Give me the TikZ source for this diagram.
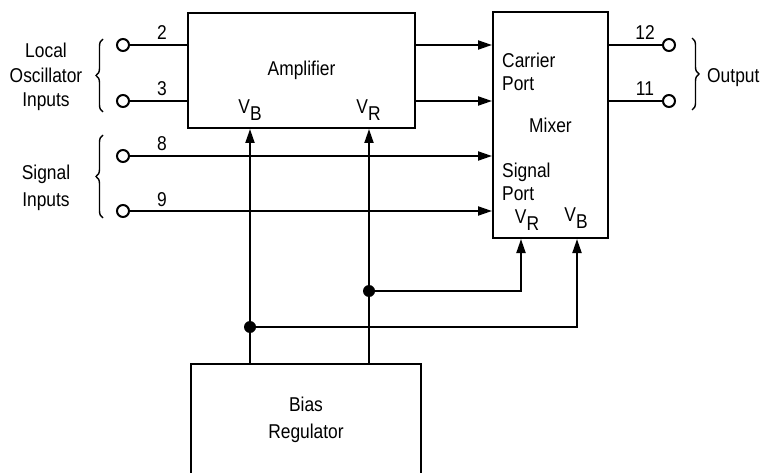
\documentclass[tikz,border=0pt]{standalone}
\usepackage{fontspec}
\setmainfont{Liberation Sans}[FakeStretch=0.87]
\usetikzlibrary{arrows.meta,decorations.pathreplacing}
\tikzset{
  block/.style={draw, line width=2pt, inner sep=0pt, font=\fontsize{20}{24}\selectfont},
  term/.style={circle, draw, fill=white, line width=2pt, minimum size=12pt, inner sep=0pt},
  junc/.style={circle, fill, minimum size=12pt, inner sep=0pt},
  wire/.style={line width=2pt},
  feed/.style={wire, -{Triangle[length=14pt,width=9pt]}},
  lbl/.style={inner sep=0pt, font=\fontsize{20}{24}\selectfont},
  grp/.style={line width=1.4pt, decorate, decoration={brace, amplitude=7pt}},
}
\newcommand{\vsub}[1]{V\raisebox{-0.35em}{#1}}

\begin{document}
\begin{tikzpicture}[x=1pt, y=-1pt]
  \useasboundingbox (0,0) rectangle (760,473);
  \clip (0,0) rectangle (760,473);

  % blocks
  \node[block, minimum width=227pt, minimum height=115pt] (amp) at (301.5,70.5) {Amplifier};
  \node[block, minimum width=115pt, minimum height=226pt] (mix) at (550.5,125) {Mixer};
  \node[block, minimum width=230pt, minimum height=112pt, anchor=north,
        align=center, font=\fontsize{20}{27}\selectfont] (bias) at (306,363) {Bias\\Regulator};

  % texts inside the blocks
  \node[lbl, anchor=west, align=left, font=\fontsize{20}{22.3}\selectfont] (carrier) at (502,72) {Carrier\\Port};
  \node[lbl, anchor=west, align=left, font=\fontsize{20}{22.3}\selectfont] (sigport) at (502,182) {Signal\\Port};
  \node[lbl] (ampvb) at (250,110.5) {\vsub{B}};
  \node[lbl] (ampvr) at (368.5,110.5) {\vsub{R}};
  \node[lbl] (mixvr) at (527,220) {\vsub{R}};
  \node[lbl] (mixvb) at (576,218.5) {\vsub{B}};

  % terminals
  \node[term] (t2) at (123,45) {};
  \node[term] (t3) at (123,101) {};
  \node[term] (t8) at (123,156) {};
  \node[term] (t9) at (123,211) {};
  \node[term] (t12) at (669,45) {};
  \node[term] (t11) at (669,101) {};

  % pin numbers
  \node[lbl] (n2) at (162,33) {2};
  \node[lbl] (n3) at (162,89) {3};
  \node[lbl] (n8) at (162,144) {8};
  \node[lbl] (n9) at (162,200) {9};
  \node[lbl] (n12) at (645,33) {12};
  \node[lbl] (n11) at (645,89) {11};

  % group labels
  \node[lbl, align=center, font=\fontsize{20}{24.2}\selectfont] (lotxt) at (46,77) {Local\\Oscillator\\Inputs};
  \node[lbl, align=center, font=\fontsize{20}{26.5}\selectfont] (sigtxt) at (46,188) {Signal\\Inputs};
  \node[lbl, anchor=west] (outtxt) at (707,78) {Output};
  \draw[grp] (103,112) -- (103,39);
  \draw[grp] (103,218) -- (103,135);
  \draw[grp] (692,38) -- (692,110);

  % signal path
  \draw[wire] (t2) -- (amp.west |- t2);
  \draw[wire] (t3) -- (amp.west |- t3);
  \draw[feed] (amp.east |- t2) -- (mix.west |- t2);
  \draw[feed] (amp.east |- t3) -- (mix.west |- t3);
  \draw[feed] (t8) -- (mix.west |- t8);
  \draw[feed] (t9) -- (mix.west |- t9);
  \draw[wire] (mix.east |- t12) -- (t12);
  \draw[wire] (mix.east |- t11) -- (t11);

  % bias lines
  \node[junc] (jb) at (250,327) {};
  \node[junc] (jr) at (369,291) {};
  \draw[feed] (bias.north -| jb) -- (amp.south -| jb);
  \draw[feed] (bias.north -| jr) -- (amp.south -| jr);
  \draw[feed] (jr) -| (mix.south -| 521,0);
  \draw[feed] (jb) -| (mix.south -| 577,0);
\end{tikzpicture}
\end{document}
